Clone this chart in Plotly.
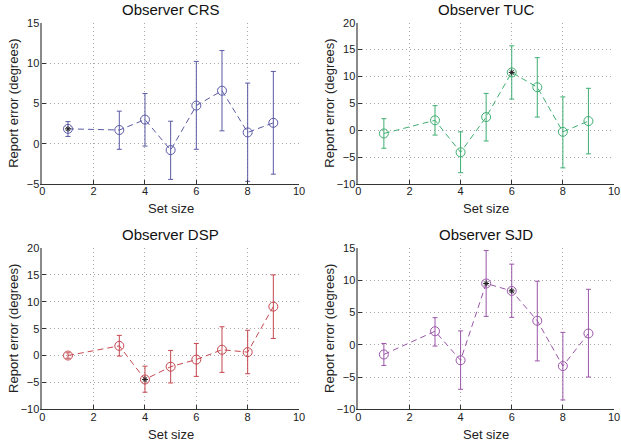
import plotly.graph_objects as go

set_size = [1, 3, 4, 5, 6, 7, 8, 9]

observers = ["CRS", "TUC", "DSP", "SJD"]

crs_mean = [1.85, 1.7, 3.0, -0.8, 4.75, 6.6, 1.4, 2.6]
crs_high = [2.75, 4.05, 6.25, 2.8, 10.25, 11.6, 7.55, 9.0]
crs_low = [0.9, -0.7, -0.3, -4.45, -0.7, 1.6, -4.7, -3.8]
crs_sig = [True, False, False, False, False, False, False, False]

tuc_mean = [-0.6, 1.85, -4.1, 2.45, 10.75, 8.0, -0.3, 1.7]
tuc_high = [2.15, 4.57, -0.3, 6.85, 15.7, 13.5, 6.2, 7.8]
tuc_low = [-3.35, -0.9, -7.9, -2.0, 5.8, 2.45, -7.0, -4.4]
tuc_sig = [False, False, False, False, True, False, False, False]

dsp_mean = [0.0, 1.8, -4.45, -2.08, -0.75, 1.08, 0.63, 9.1]
dsp_high = [0.5, 3.75, -1.98, 0.95, 2.25, 5.35, 4.7, 15.0]
dsp_low = [-0.5, -0.1, -6.82, -5.1, -3.88, -3.13, -3.38, 3.18]
dsp_sig = [False, False, True, False, False, False, False, False]

sjd_mean = [-1.5, 2.1, -2.4, 9.5, 8.35, 3.72, -3.3, 1.75]
sjd_high = [0.2, 4.2, 2.15, 14.6, 12.5, 9.85, 1.92, 8.6]
sjd_low = [-3.2, -0.2, -6.9, 4.4, 4.25, -2.5, -8.55, -5.0]
sjd_sig = [False, False, False, True, True, False, False, False]

y_ranges = {"CRS": [-5, 15], "TUC": [-10, 20], "DSP": [-10, 20], "SJD": [-10, 15]}
colors = {"CRS": "#5a5aa6", "TUC": "#3fae72", "DSP": "#c4474f", "SJD": "#9a56a8"}

data = {
    "CRS": (crs_mean, crs_high, crs_low, crs_sig),
    "TUC": (tuc_mean, tuc_high, tuc_low, tuc_sig),
    "DSP": (dsp_mean, dsp_high, dsp_low, dsp_sig),
    "SJD": (sjd_mean, sjd_high, sjd_low, sjd_sig),
}

W, H = 621, 441
# panel pixel boxes: (x0, x1, ytop, ybottom)
boxes = {
    "CRS": (42.3, 299.0, 23.3, 183.8),
    "TUC": (358.3, 614.0, 22.7, 184.0),
    "DSP": (42.3, 299.0, 248.0, 409.3),
    "SJD": (358.3, 614.0, 248.0, 409.3),
}

fig = go.Figure()
FONT = "Liberation Sans, Arial, Helvetica, sans-serif"
annotations = []

for i, name in enumerate(observers):
    mean, high, low, sig = data[name]
    col = colors[name]
    ax = "" if i == 0 else str(i + 1)
    xref, yref = "x" + ax, "y" + ax
    plus = [h - m for h, m in zip(high, mean)]
    minus = [m - l for m, l in zip(mean, low)]
    fig.add_trace(go.Scatter(
        x=set_size, y=mean, mode="lines+markers",
        line=dict(color=col, width=1, dash="6px,4px"),
        marker=dict(symbol="circle-open", size=9, color=col, line=dict(width=1, color=col)),
        error_y=dict(type="data", symmetric=False, array=plus, arrayminus=minus,
                     color=col, thickness=1, width=2.5),
        xaxis=xref, yaxis=yref, showlegend=False, hoverinfo="skip"))
    sx = [x for x, s in zip(set_size, sig) if s]
    sy = [y for y, s in zip(mean, sig) if s]
    fig.add_trace(go.Scatter(
        x=sx, y=sy, mode="markers",
        marker=dict(symbol="asterisk-open", size=5, color="#222", line=dict(width=1, color="#222")),
        xaxis=xref, yaxis=yref, showlegend=False, hoverinfo="skip"))

    x0, x1, yt, yb = boxes[name]
    common = dict(showgrid=True, gridcolor="#a8a8a8", griddash="1px,3px", gridwidth=1,
                  zeroline=False, showline=True, ticks="inside", ticklen=4,
                  tickcolor="#333", tickfont=dict(family=FONT, size=11, color="#222"))
    fig.update_layout(**{
        "xaxis" + ax: dict(domain=[x0 / W, x1 / W], range=[0, 10], dtick=2, tick0=0,
                           anchor=yref, linecolor="#333", linewidth=1,
                           ticklabelstandoff=-3, **common),
        "yaxis" + ax: dict(domain=[1 - yb / H, 1 - yt / H], range=y_ranges[name], dtick=5,
                           tick0=0, anchor=xref, linecolor="#8a8a8a", linewidth=1.5,
                           ticklabelstandoff=-1, **common),
    })
    annotations.append(dict(text="Observer " + name, x=(x0 + x1) / 2 / W, y=1 - (yt - 13.5) / H,
                            xref="paper", yref="paper", showarrow=False,
                            xanchor="center", yanchor="middle",
                            font=dict(family=FONT, size=15, color="#111")))
    annotations.append(dict(text="Set size", x=(x0 + x1) / 2 / W, y=1 - (yb + 25) / H,
                            xref="paper", yref="paper", showarrow=False,
                            xanchor="center", yanchor="middle",
                            font=dict(family=FONT, size=13, color="#222")))
    annotations.append(dict(text="Report error (degrees)", x=(x0 - 29) / W, y=1 - (yt + yb) / 2 / H,
                            xref="paper", yref="paper", showarrow=False, textangle=-90,
                            xanchor="center", yanchor="middle",
                            font=dict(family=FONT, size=13, color="#222")))

fig.update_layout(width=W, height=H, margin=dict(l=0, r=0, t=0, b=0, autoexpand=False),
                  paper_bgcolor="white", plot_bgcolor="white",
                  annotations=annotations)

fig.write_html("out.html", config={"displayModeBar": False},
               post_script="document.body.style.margin='0px';document.body.style.overflow='hidden';")
